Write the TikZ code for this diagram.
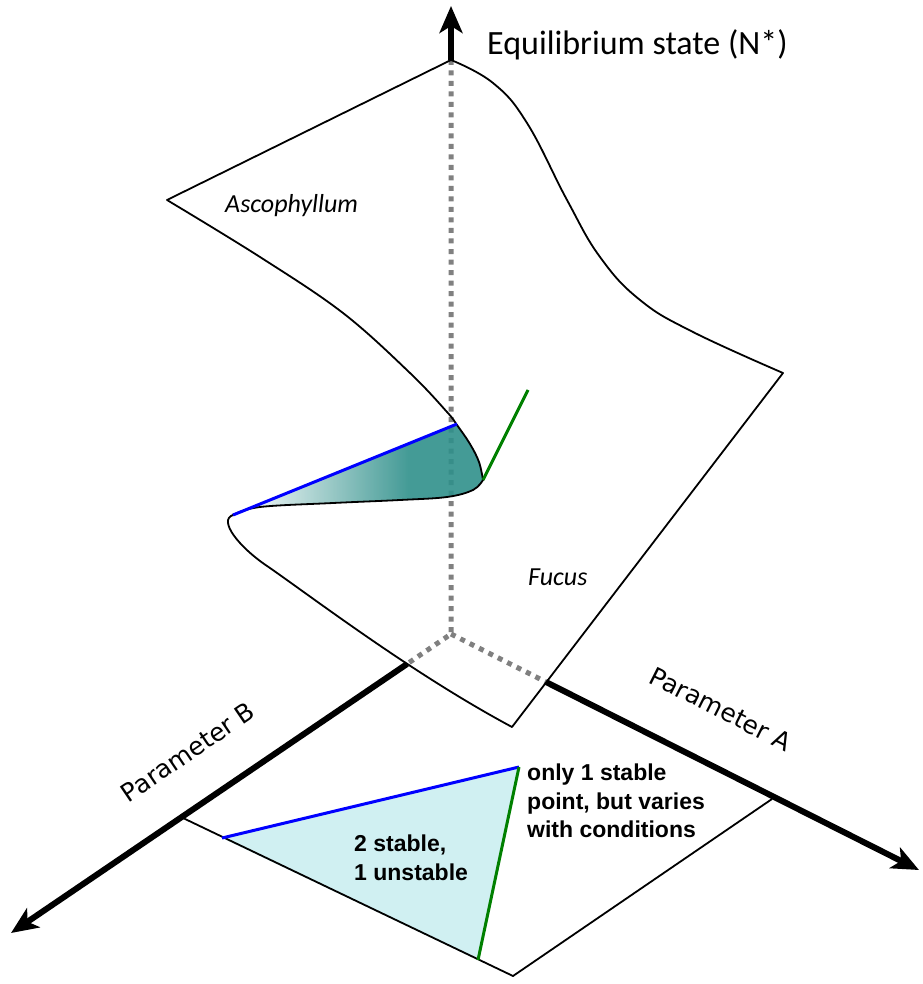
\documentclass[tikz,border=0pt]{standalone}
\usepackage{fontspec}
\usetikzlibrary{arrows.meta}
\newfontfamily\calibfont{Carlito}
\newfontfamily\arialfont{Liberation Sans}
\newfontfamily\axisfont{DejaVu Sans}
\definecolor{foldteal}{RGB}{48,144,139}
\definecolor{regioncyan}{RGB}{208,240,242}
\definecolor{axisgray}{RGB}{128,128,128}
\definecolor{linegreen}{RGB}{0,128,0}
\pgfdeclarehorizontalshading{foldshade}{100bp}{color(0bp)=(white); color(26bp)=(white); color(60bp)=(foldteal); color(100bp)=(foldteal)}
\tikzset{
  axisline/.style={line width=6pt, -{Stealth[length=27pt,width=23pt,inset=7pt]}},
  hiddenaxis/.style={axisgray, line width=5pt, dash pattern=on 5pt off 5.5pt},
  surface/.style={line width=1.8pt, line join=round},
  bluebound/.style={blue, line width=3pt},
  greenbound/.style={linegreen, line width=3pt},
  boldtext/.style={align=left, inner sep=0pt, font=\arialfont\bfseries\fontsize{23}{28.5}\selectfont},
  speciestext/.style={anchor=base west, inner sep=0pt, font=\calibfont\itshape\fontsize{26}{30}\selectfont},
  paramtext/.style={font=\axisfont\fontsize{25}{30}\selectfont}
}
\begin{document}
\begin{tikzpicture}[x=1pt,y=-1pt]
    \useasboundingbox (0,0) rectangle (922,984);
    % axes, corner and cut points
    \coordinate (O) at (451,634);
    \coordinate (Ntop) at (451,60);
    \coordinate (Ntip) at (451,6);
    \coordinate (Bcut) at (407,664);
    \coordinate (Btip) at (11,933);
    \coordinate (Acut) at (546,682);
    \coordinate (Atip) at (919,870);
    % parameter plane
    \coordinate (Pb) at (183,818);
    \coordinate (Pbot) at (513,976);
    \coordinate (Pa) at (772,799);
    \coordinate (Tblue) at (222,838);
    \coordinate (Ttop) at (519,767);
    \coordinate (Tgreen) at (478,960);
    \fill[regioncyan] (Tblue) -- (Ttop) -- (Tgreen) -- cycle;
    \draw[surface] (Pb) -- (Pbot) -- (Pa);
    \draw[bluebound] (Tblue) -- (Ttop);
    \draw[greenbound] (Ttop) -- (Tgreen);
    % hidden part of the axes
    \draw[hiddenaxis] (Ntop) -- (O) -- (Bcut) (O) -- (Acut);
    % the fold
    \coordinate (Fl) at (233,515);
    \coordinate (Fu) at (457,424);
    \coordinate (Ftip) at (483,480);
    \coordinate (Fg) at (528,390);
    \shade[shading=foldshade, opacity=0.9] (Fl) -- (Fu)
        -- plot[smooth,tension=0.6] coordinates {(457,424) (470,444) (479,462) (483,480)}
        -- plot[smooth,tension=0.6] coordinates {(483,480) (473,490) (447,497) (400,500) (333,503) (260,507) (233,515)} -- cycle;
    % the surface
    \draw[surface] (Ntop)
        -- plot[smooth,tension=0.6] coordinates {(167,200) (260,257) (343,313) (410,373) (447,412) (457,425) (470,444) (479,462) (483,480)}
        -- plot[smooth,tension=0.6] coordinates {(483,480) (473,490) (447,497) (400,500) (333,503) (260,507) (233,515)}
        .. controls (218,520) and (238,547) .. (270,568)
        .. controls (320,603) and (415,675) .. (512,727)
        -- plot[smooth,tension=0.7] coordinates {(783,373) (693,332) (640,300) (600,257) (567,200) (527,123) (493,83) (451,60)};
    \draw[bluebound] (Fl) -- (Fu);
    \draw[greenbound] (Ftip) -- (Fg);
    % visible axes
    \draw[axisline] (Ntop) -- (Ntip);
    \draw[axisline] (Bcut) -- (Btip);
    \draw[axisline] (Acut) -- (Atip);
    % labels
    \node[anchor=base west, inner sep=0pt, font=\calibfont\fontsize{34}{40}\selectfont] (Nlabel) at (487,55) {Equilibrium state (N*)};
    \node[speciestext] (asco) at (225,213) {Ascophyllum};
    \node[speciestext] (fucus) at (528,585) {Fucus};
    \node[paramtext, rotate=34.2] (Blabel) at (188,752) {Parameter B};
    \node[paramtext, rotate=-26.8] (Alabel) at (721,709) {Parameter A};
    \node[boldtext, anchor=north west] (onelabel) at (527,764) {only 1 stable\\point, but varies\\with conditions};
    \node[boldtext, anchor=north west] (twolabel) at (354,835) {2 stable,\\1 unstable};
\end{tikzpicture}
\end{document}
